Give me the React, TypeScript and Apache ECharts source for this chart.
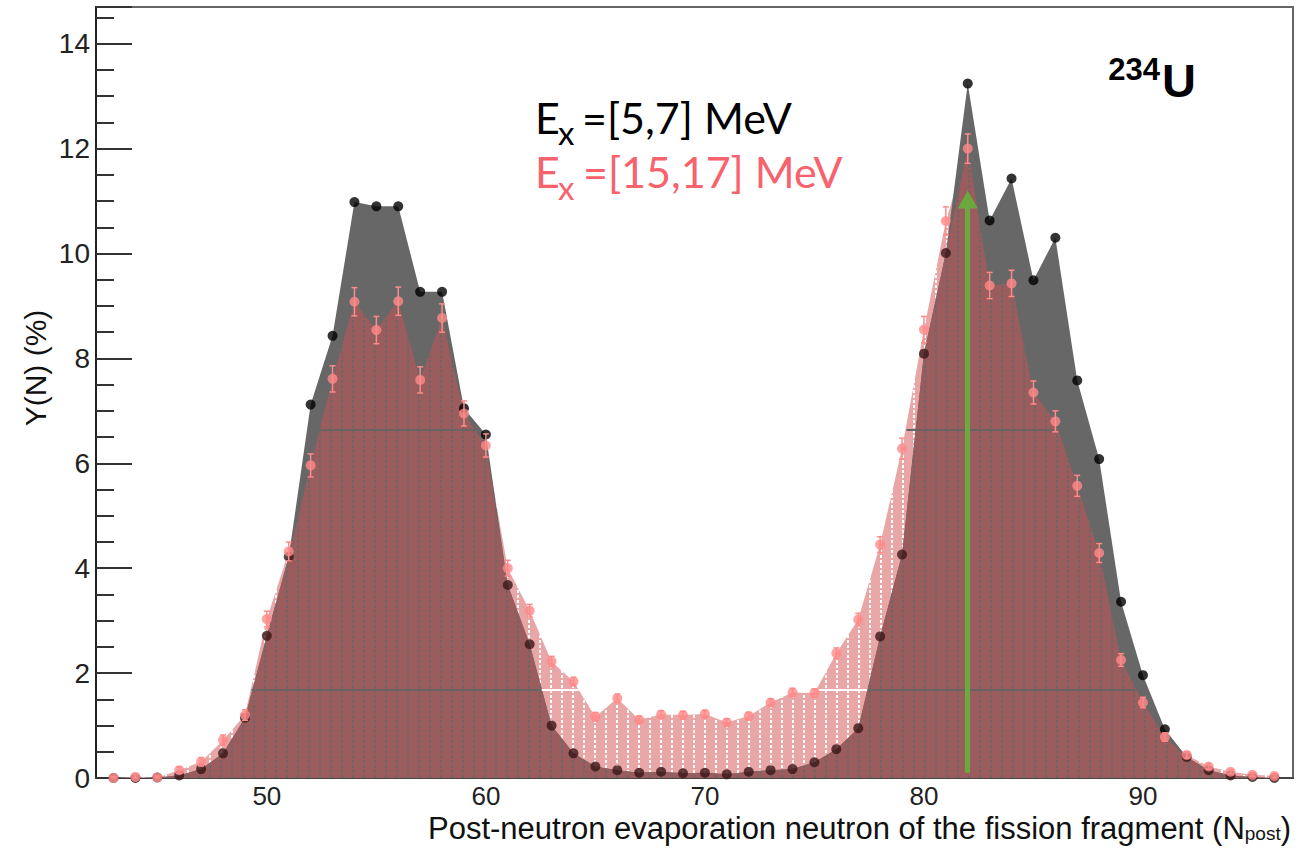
import React, { useEffect, useRef } from 'react';
import * as echarts from 'echarts';

// Neutron number of the fission fragment (post-neutron evaporation)
const neutronNumbers = [
  43, 44, 45, 46, 47, 48, 49, 50, 51, 52, 53, 54, 55, 56, 57, 58, 59, 60, 61, 62,
  63, 64, 65, 66, 67, 68, 69, 70, 71, 72, 73, 74, 75, 76, 77, 78, 79, 80, 81, 82,
  83, 84, 85, 86, 87, 88, 89, 90, 91, 92, 93, 94, 95, 96,
];

// Y(N) (%) for Ex = [5,7] MeV (black)
const yieldEx5to7 = [
  0.0, 0.0, 0.01, 0.05, 0.17, 0.47, 1.15, 2.71, 4.22, 7.12, 8.43, 10.98, 10.9, 10.9, 9.27, 9.27, 7.05, 6.55, 3.68, 2.55,
  1.0, 0.47, 0.22, 0.15, 0.1, 0.12, 0.09, 0.1, 0.07, 0.12, 0.15, 0.17, 0.3, 0.55, 0.95, 2.7, 4.26, 8.09, 10.01, 13.24,
  10.63, 11.43, 9.49, 10.3, 7.58, 6.08, 3.36, 1.96, 0.93, 0.4, 0.15, 0.05, 0.02, 0.0,
];

// Y(N) (%) for Ex = [15,17] MeV (pink)
const yieldEx15to17 = [
  0.0, 0.02, 0.01, 0.15, 0.31, 0.72, 1.2, 3.03, 4.32, 5.96, 7.61, 9.08, 8.54, 9.09, 7.59, 8.77, 6.95, 6.34, 4.0, 3.19,
  2.22, 1.84, 1.17, 1.52, 1.11, 1.21, 1.2, 1.22, 1.06, 1.18, 1.44, 1.63, 1.62, 2.38, 3.02, 4.45, 6.28, 8.55, 10.62, 12.0,
  9.39, 9.43, 7.35, 6.8, 5.57, 4.29, 2.25, 1.44, 0.78, 0.44, 0.22, 0.12, 0.06, 0.04,
];

// Error bars for Ex = [15,17] MeV
const errEx15to17 = [
  0.03, 0.05, 0.03, 0.06, 0.08, 0.1, 0.1, 0.15, 0.18, 0.22, 0.25, 0.27, 0.26, 0.27, 0.25, 0.27, 0.24, 0.22, 0.15, 0.12,
  0.1, 0.08, 0.08, 0.08, 0.07, 0.07, 0.07, 0.07, 0.07, 0.07, 0.07, 0.08, 0.08, 0.1, 0.12, 0.15, 0.2, 0.25, 0.27, 0.28,
  0.25, 0.25, 0.22, 0.2, 0.2, 0.18, 0.12, 0.1, 0.08, 0.06, 0.05, 0.04, 0.03, 0.03,
];

// Horizontal gaps in the pink fill: [y, xStart, xEnd, kind]
const fillGaps: [number, number, number, string][] = [
  [1.69, 49.3, 62.55, 'dark'],
  [1.69, 62.55, 64.25, 'light'],
  [1.69, 75.2, 77.42, 'light'],
  [1.69, 77.42, 89.65, 'dark'],
  [6.64, 52.4, 59.5, 'dark'],
  [6.64, 79.2, 86.0, 'dark'],
];

// Arrow marking N = 82
const arrowN = 82;
const arrowFrom = 0.1;
const arrowTo = 11.03;

const yMin = 0;
const yMax = 14.7;
const yInterval = 2;
const xMin = 42.2;
const xMax = 96.85;

function makePattern(base: string, stripe: string) {
  const c = document.createElement('canvas');
  c.width = 11;
  c.height = 5;
  const ctx = c.getContext('2d')!;
  ctx.fillStyle = base;
  ctx.fillRect(0, 0, 11, 5);
  ctx.fillStyle = stripe;
  ctx.fillRect(0, 0, 2, 3);
  return { image: c.toDataURL(), repeat: 'repeat', imageWidth: 11, imageHeight: 5 };
}

export default function App() {
  const ref = useRef<HTMLDivElement>(null);

  useEffect(() => {
    document.body.style.margin = '0';
    const chart = echarts.init(ref.current!, null, { renderer: 'svg' });

    const blackPairs = neutronNumbers.map((n, i) => [n, yieldEx5to7[i]]);
    const pinkPairs = neutronNumbers.map((n, i) => [n, yieldEx15to17[i]]);
    const overlapPairs = neutronNumbers.map((n, i) => [n, Math.min(yieldEx5to7[i], yieldEx15to17[i])]);

    const font = 'Liberation Sans';
    const G = 100;

    const option: any = {
      animation: false,
      grid: {
        left: 96,
        right: 14,
        top: 7,
        bottom: 73,
        show: true,
        borderColor: '#666',
        borderWidth: 2,
        backgroundColor: 'transparent',
      },
      xAxis: {
        type: 'value',
        min: xMin,
        max: xMax,
        splitNumber: 5,
        axisLine: { show: true, onZero: false, lineStyle: { color: '#444', width: 2 } },
        axisTick: { show: true, inside: true, length: 20, lineStyle: { color: '#333', width: 2 } },
        minorTick: { show: false },
        splitLine: { show: false },
        axisLabel: {
          fontSize: 26,
          lineHeight: 20,
          fontFamily: font,
          color: '#222',
          margin: 8,
          showMinLabel: false,
          showMaxLabel: false,
        },
      },
      yAxis: {
        type: 'value',
        min: yMin,
        max: yMax,
        interval: yInterval,
        axisLine: { show: true, lineStyle: { color: '#222', width: 2 } },
        axisTick: { show: true, inside: true, length: 36, lineStyle: { color: '#333', width: 2 } },
        minorTick: { show: true, splitNumber: 4, length: 18, lineStyle: { color: '#333', width: 2 } },
        splitLine: { show: false },
        axisLabel: {
          fontSize: 28,
          fontFamily: font,
          color: '#222',
          margin: 6,
          showMaxLabel: false,
        },
      },
      series: [
        {
          name: 'Ex=[15,17] MeV area',
          type: 'line',
          data: pinkPairs,
          symbol: 'none',
          lineStyle: { width: 0 },
          areaStyle: { color: makePattern('#e8a6a6', '#ffffff'), opacity: 1 },
          z: 1,
          silent: true,
        },
        {
          name: 'Ex=[5,7] MeV area',
          type: 'line',
          data: blackPairs,
          symbol: 'none',
          lineStyle: { width: 0, color: '#676767' },
          areaStyle: { color: '#676767', opacity: 1 },
          z: 1,
          silent: true,
        },
        {
          name: 'overlap',
          type: 'line',
          data: overlapPairs,
          symbol: 'none',
          lineStyle: { width: 0 },
          areaStyle: { color: makePattern('#9a5c5c', '#716565'), opacity: 1 },
          z: 2,
          silent: true,
        },
        {
          name: 'fill gaps',
          type: 'line',
          data: [],
          symbol: 'none',
          z: 3,
          silent: true,
          markLine: {
            silent: true,
            animation: false,
            symbol: ['none', 'none'],
            label: { show: false },
            z: 3,
            data: fillGaps.map(([y, x1, x2, kind]) => [
              {
                coord: [x1, y],
                lineStyle: { color: kind === 'dark' ? '#6a6464' : '#ffffff', width: 2, type: 'solid' },
              },
              { coord: [x2, y] },
            ]),
          },
        },
        {
          name: 'arrow',
          type: 'line',
          data: [],
          symbol: 'none',
          z: 6,
          silent: true,
          markLine: {
            silent: true,
            animation: false,
            symbol: ['none', 'triangle'],
            symbolSize: [20, 18],
            label: { show: false },
            lineStyle: { color: '#6aa93d', width: 5, type: 'solid' },
            itemStyle: { color: '#6aa93d' },
            z: 6,
            data: [[{ coord: [arrowN, arrowFrom] }, { coord: [arrowN, arrowTo] }]],
          },
        },
        {
          name: 'Ex=[5,7] MeV',
          type: 'scatter',
          symbol: 'circle',
          symbolSize: 10,
          data: neutronNumbers.map((n, i) => ({
            value: [n, yieldEx5to7[i]],
            itemStyle: { color: yieldEx15to17[i] >= yieldEx5to7[i] ? '#3a1616' : '#000000' },
          })),
          z: 4,
          silent: true,
        },
        {
          name: 'errors',
          type: 'custom',
          data: neutronNumbers.map((n, i) => [n, yieldEx15to17[i], errEx15to17[i]]),
          renderItem: (params: any, api: any) => {
            const x = api.value(0);
            const y = api.value(1);
            const e = api.value(2);
            const top = api.coord([x, y + e]);
            const bot = api.coord([x, Math.max(0, y - e)]);
            const style = { stroke: '#ff8a8a', lineWidth: 1.5 };
            return {
              type: 'group',
              children: [
                { type: 'line', shape: { x1: top[0], y1: top[1], x2: bot[0], y2: bot[1] }, style },
                { type: 'line', shape: { x1: top[0] - 3, y1: top[1], x2: top[0] + 3, y2: top[1] }, style },
                { type: 'line', shape: { x1: bot[0] - 3, y1: bot[1], x2: bot[0] + 3, y2: bot[1] }, style },
              ],
            };
          },
          z: 5,
          silent: true,
        },
        {
          name: 'Ex=[15,17] MeV',
          type: 'scatter',
          symbol: 'circle',
          symbolSize: 10,
          itemStyle: { color: '#ff8a8a' },
          data: pinkPairs,
          z: 5,
          silent: true,
        },
      ],
      graphic: [
        {
          type: 'text',
          z: G,
          x: 35,
          y: 368,
          rotation: Math.PI / 2,
          style: {
            text: 'Y(N) (%)',
            fontSize: 30,
            fontFamily: font,
            fill: '#111',
            align: 'center',
            verticalAlign: 'middle',
          },
        },
        {
          type: 'text',
          z: G,
          x: 428,
          y: 828,
          style: {
            text: '{m|Post-neutron evaporation neutron of the fission fragment (N}{s|post}{m|)}',
            fill: '#111',
            align: 'left',
            verticalAlign: 'middle',
            rich: {
              m: { fontSize: 31, fontFamily: font, lineHeight: 30, fill: '#111' },
              s: { fontSize: 19, fontFamily: font, lineHeight: 8, verticalAlign: 'bottom', fill: '#111' },
            },
          },
        },
        {
          type: 'text',
          z: G,
          x: 1160,
          y: 69,
          style: { text: '234', fontSize: 31, fontWeight: 'bold', fontFamily: font, fill: '#000', align: 'right', verticalAlign: 'middle' },
        },
        {
          type: 'text',
          z: G,
          x: 1162,
          y: 80,
          style: { text: 'U', fontSize: 47, fontWeight: 'bold', fontFamily: font, fill: '#000', align: 'left', verticalAlign: 'middle' },
        },
        {
          type: 'text',
          z: G,
          x: 535,
          y: 117,
          style: { text: 'E', fontSize: 43, fontFamily: 'Lato', fill: '#000', align: 'left', verticalAlign: 'middle' },
        },
        {
          type: 'text',
          z: G,
          x: 558,
          y: 132,
          style: { text: 'x', fontSize: 33, fontFamily: 'Lato', fill: '#000', align: 'left', verticalAlign: 'middle' },
        },
        {
          type: 'text',
          z: G,
          x: 582,
          y: 117,
          style: { text: '=[5,7] MeV', fontSize: 43, fontFamily: 'Lato', fill: '#000', align: 'left', verticalAlign: 'middle' },
        },
        {
          type: 'text',
          z: G,
          x: 535,
          y: 171.5,
          style: { text: 'E', fontSize: 43, fontFamily: 'Lato', fill: '#f8626c', align: 'left', verticalAlign: 'middle' },
        },
        {
          type: 'text',
          z: G,
          x: 558,
          y: 187,
          style: { text: 'x', fontSize: 33, fontFamily: 'Lato', fill: '#f8626c', align: 'left', verticalAlign: 'middle' },
        },
        {
          type: 'text',
          z: G,
          x: 583,
          y: 171.5,
          style: { text: '=[15,17] MeV', fontSize: 43, fontFamily: 'Lato', fill: '#f8626c', align: 'left', verticalAlign: 'middle' },
        },
      ],
    };

    chart.setOption(option);
    return () => chart.dispose();
  }, []);

  return (
    <div
      ref={ref}
      style={{ position: 'absolute', left: 0, top: 0, width: 1307, height: 851, background: '#fff' }}
    />
  );
}
